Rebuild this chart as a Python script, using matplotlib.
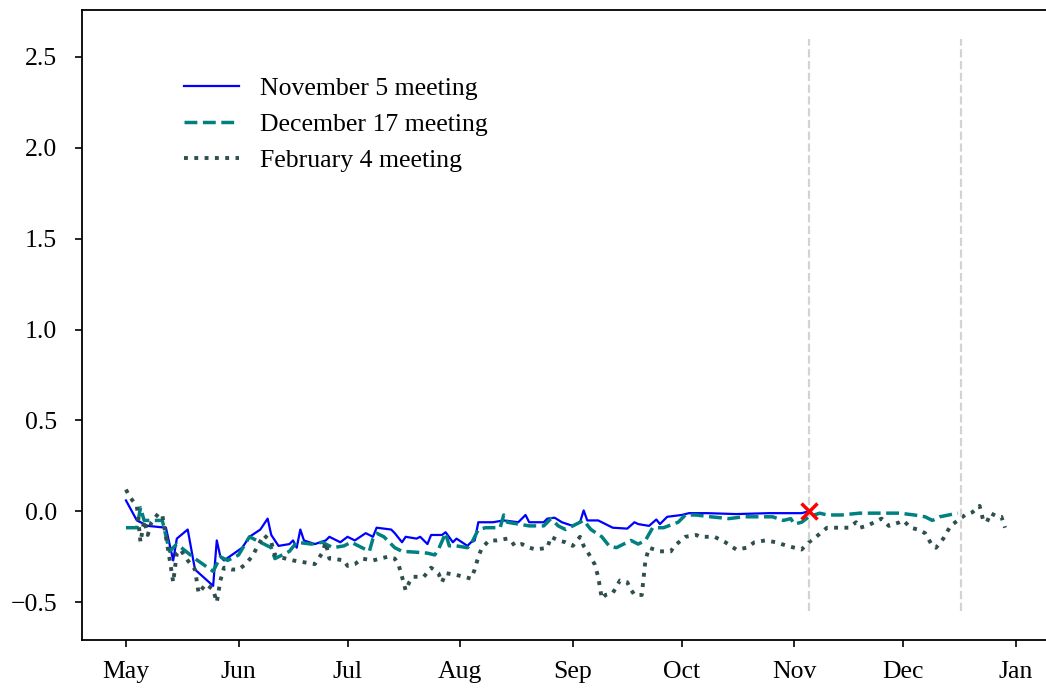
import pandas as pd
import matplotlib.pyplot as plt
import matplotlib.dates as mdates

# implied path of Bank Rate expectations ahead of each MPC meeting
nov_dates = ["2020-05-01", "2020-05-04", "2020-05-07", "2020-05-12", "2020-05-14", "2020-05-15",
             "2020-05-18", "2020-05-20", "2020-05-25", "2020-05-26", "2020-05-27", "2020-05-28",
             "2020-06-02", "2020-06-04", "2020-06-07", "2020-06-09", "2020-06-10", "2020-06-12",
             "2020-06-15", "2020-06-16", "2020-06-17", "2020-06-18", "2020-06-19", "2020-06-22",
             "2020-06-25", "2020-06-26", "2020-06-29", "2020-07-01", "2020-07-03", "2020-07-06",
             "2020-07-08", "2020-07-09", "2020-07-13", "2020-07-14", "2020-07-16", "2020-07-17",
             "2020-07-20", "2020-07-21", "2020-07-23", "2020-07-24", "2020-07-27", "2020-07-28",
             "2020-07-30", "2020-07-31", "2020-08-03", "2020-08-04", "2020-08-05", "2020-08-06",
             "2020-08-10", "2020-08-13", "2020-08-17", "2020-08-19", "2020-08-20", "2020-08-24",
             "2020-08-25", "2020-08-27", "2020-08-29", "2020-09-01", "2020-09-03", "2020-09-04",
             "2020-09-05", "2020-09-08", "2020-09-09", "2020-09-11", "2020-09-12", "2020-09-16",
             "2020-09-18", "2020-09-19", "2020-09-22", "2020-09-24", "2020-09-25", "2020-09-27",
             "2020-10-01", "2020-10-03", "2020-10-08", "2020-10-16", "2020-10-25", "2020-11-03",
             "2020-11-05"]
nov_vals = [0.06, -0.05, -0.08, -0.09, -0.27, -0.15,
            -0.10, -0.32, -0.41, -0.16, -0.25, -0.27,
            -0.20, -0.14, -0.10, -0.04, -0.13, -0.19,
            -0.18, -0.16, -0.20, -0.10, -0.16, -0.18,
            -0.16, -0.14, -0.17, -0.14, -0.16, -0.12,
            -0.14, -0.09, -0.10, -0.12, -0.17, -0.14,
            -0.15, -0.14, -0.18, -0.13, -0.13, -0.115,
            -0.17, -0.15, -0.19, -0.17, -0.16, -0.06,
            -0.06, -0.05, -0.06, -0.02, -0.06, -0.06,
            -0.04, -0.035, -0.06, -0.08, -0.06, 0.005,
            -0.05, -0.05, -0.06, -0.08, -0.09, -0.095,
            -0.06, -0.07, -0.08, -0.045, -0.07, -0.03,
            -0.02, -0.01, -0.01, -0.015, -0.01, -0.01,
            0.0]

dec_dates = ["2020-05-01", "2020-05-04", "2020-05-05", "2020-05-06", "2020-05-11", "2020-05-13",
             "2020-05-15", "2020-05-20", "2020-05-25", "2020-05-27", "2020-05-29", "2020-06-01",
             "2020-06-04", "2020-06-07", "2020-06-10", "2020-06-11", "2020-06-15", "2020-06-17",
             "2020-06-21", "2020-06-24", "2020-06-27", "2020-06-30", "2020-07-02", "2020-07-06",
             "2020-07-07", "2020-07-08", "2020-07-09", "2020-07-11", "2020-07-14", "2020-07-16",
             "2020-07-20", "2020-07-23", "2020-07-25", "2020-07-26", "2020-07-28", "2020-07-29",
             "2020-07-31", "2020-08-03", "2020-08-04", "2020-08-06", "2020-08-08", "2020-08-12",
             "2020-08-13", "2020-08-14", "2020-08-17", "2020-08-20", "2020-08-24", "2020-08-26",
             "2020-08-28", "2020-08-30", "2020-09-02", "2020-09-04", "2020-09-06", "2020-09-09",
             "2020-09-11", "2020-09-13", "2020-09-17", "2020-09-19", "2020-09-21", "2020-09-23",
             "2020-09-26", "2020-09-30", "2020-10-02", "2020-10-05", "2020-10-09", "2020-10-14",
             "2020-10-18", "2020-10-22", "2020-10-26", "2020-10-29", "2020-10-31", "2020-11-01",
             "2020-11-03", "2020-11-05", "2020-11-08", "2020-11-10", "2020-11-14", "2020-11-19",
             "2020-11-24", "2020-11-30", "2020-12-04", "2020-12-07", "2020-12-09", "2020-12-11",
             "2020-12-16"]
dec_vals = [-0.09, -0.09, 0.02, -0.05, -0.05, -0.22,
            -0.18, -0.26, -0.33, -0.25, -0.27, -0.24,
            -0.14, -0.17, -0.20, -0.26, -0.22, -0.17,
            -0.18, -0.17, -0.20, -0.19, -0.17, -0.21,
            -0.22, -0.15, -0.12, -0.14, -0.20, -0.22,
            -0.225, -0.23, -0.24, -0.21, -0.12, -0.19,
            -0.19, -0.20, -0.18, -0.10, -0.09, -0.09,
            -0.02, -0.06, -0.07, -0.08, -0.08, -0.04,
            -0.08, -0.10, -0.07, -0.05, -0.10, -0.14,
            -0.19, -0.20, -0.16, -0.18, -0.16, -0.09,
            -0.09, -0.06, -0.02, -0.02, -0.03, -0.04,
            -0.03, -0.03, -0.03, -0.05, -0.04, -0.07,
            -0.06, -0.03, -0.01, -0.02, -0.02, -0.01,
            -0.01, -0.01, -0.02, -0.03, -0.05, -0.03,
            -0.01]

feb_dates = ["2020-05-01", "2020-05-02", "2020-05-04", "2020-05-05", "2020-05-06", "2020-05-07",
             "2020-05-08", "2020-05-10", "2020-05-11", "2020-05-12", "2020-05-13", "2020-05-14",
             "2020-05-15", "2020-05-16", "2020-05-18", "2020-05-20", "2020-05-21", "2020-05-23",
             "2020-05-25", "2020-05-26", "2020-05-27", "2020-05-28", "2020-05-30", "2020-06-01",
             "2020-06-03", "2020-06-05", "2020-06-06", "2020-06-08", "2020-06-10", "2020-06-11",
             "2020-06-12", "2020-06-14", "2020-06-16", "2020-06-19", "2020-06-22", "2020-06-24",
             "2020-06-25", "2020-06-26", "2020-06-27", "2020-06-30", "2020-07-01", "2020-07-03",
             "2020-07-05", "2020-07-08", "2020-07-12", "2020-07-14", "2020-07-15", "2020-07-16",
             "2020-07-17", "2020-07-18", "2020-07-19", "2020-07-22", "2020-07-24", "2020-07-26",
             "2020-07-27", "2020-07-28", "2020-07-31", "2020-08-02", "2020-08-04", "2020-08-05",
             "2020-08-06", "2020-08-07", "2020-08-09", "2020-08-11", "2020-08-14", "2020-08-15",
             "2020-08-16", "2020-08-18", "2020-08-20", "2020-08-22", "2020-08-25", "2020-08-26",
             "2020-08-28", "2020-08-30", "2020-09-01", "2020-09-03", "2020-09-04", "2020-09-05",
             "2020-09-07", "2020-09-08", "2020-09-09", "2020-09-10", "2020-09-12", "2020-09-14",
             "2020-09-16", "2020-09-17", "2020-09-18", "2020-09-20", "2020-09-21", "2020-09-22",
             "2020-09-25", "2020-09-28", "2020-09-29", "2020-10-02", "2020-10-05", "2020-10-06",
             "2020-10-09", "2020-10-10", "2020-10-13", "2020-10-16", "2020-10-19", "2020-10-21",
             "2020-10-24", "2020-10-27", "2020-10-30", "2020-11-03", "2020-11-05", "2020-11-07",
             "2020-11-10", "2020-11-14", "2020-11-16", "2020-11-18", "2020-11-19", "2020-11-21",
             "2020-11-24", "2020-11-25", "2020-11-27", "2020-11-30", "2020-12-01", "2020-12-03",
             "2020-12-05", "2020-12-07", "2020-12-09", "2020-12-10", "2020-12-12", "2020-12-14",
             "2020-12-16", "2020-12-18", "2020-12-20", "2020-12-22", "2020-12-23", "2020-12-24",
             "2020-12-25", "2020-12-27", "2020-12-28", "2020-12-29"]
feb_vals = [0.12, 0.08, 0.03, -0.17, -0.05, -0.13,
            -0.06, -0.01, -0.02, -0.14, -0.26, -0.39,
            -0.23, -0.21, -0.27, -0.32, -0.45, -0.40,
            -0.43, -0.50, -0.38, -0.31, -0.32, -0.32,
            -0.29, -0.24, -0.20, -0.13, -0.17, -0.24,
            -0.25, -0.26, -0.27, -0.28, -0.29, -0.23,
            -0.17, -0.26, -0.26, -0.27, -0.30, -0.29,
            -0.26, -0.27, -0.25, -0.26, -0.29, -0.36,
            -0.435, -0.39, -0.36, -0.36, -0.31, -0.34,
            -0.39, -0.34, -0.35, -0.36, -0.37, -0.32,
            -0.25, -0.20, -0.16, -0.16, -0.15, -0.16,
            -0.19, -0.18, -0.20, -0.21, -0.20, -0.14,
            -0.16, -0.17, -0.19, -0.14, -0.19, -0.22,
            -0.29, -0.36, -0.48, -0.46, -0.45, -0.38,
            -0.39, -0.43, -0.46, -0.46, -0.27, -0.20,
            -0.22, -0.22, -0.19, -0.14, -0.13, -0.14,
            -0.14, -0.14, -0.17, -0.21, -0.20, -0.17,
            -0.16, -0.17, -0.19, -0.21, -0.17, -0.14,
            -0.09, -0.09, -0.09, -0.06, -0.09, -0.08,
            -0.05, -0.04, -0.08, -0.06, -0.05, -0.09,
            -0.10, -0.12, -0.19, -0.20, -0.15, -0.08,
            -0.05, -0.02, -0.005, 0.03, -0.05, -0.06,
            -0.01, -0.03, -0.03, -0.09]

meeting_days = ["2020-11-05", "2020-12-17"]
policy_day = "2020-11-05"
policy_val = 0.0

plt.rcParams['font.family'] = ['Liberation Serif', 'DejaVu Serif']
plt.rcParams['font.size'] = 18.5

fig = plt.figure(figsize=(10.46, 6.88), dpi=100)
ax = fig.add_axes([0.0784, 0.0698, 0.9321, 0.9157])

ax.plot(pd.to_datetime(nov_dates), nov_vals, color='blue', lw=1.6, label='November 5 meeting')
ax.plot(pd.to_datetime(dec_dates), dec_vals, color='teal', lw=2.5, ls='--',
        label='December 17 meeting')
ax.plot(pd.to_datetime(feb_dates), feb_vals, color='darkslategray', lw=2.8, ls=':',
        label='February 4 meeting')

for d in meeting_days:
    ax.vlines(pd.to_datetime(d), -0.55, 2.6, colors='lightgrey', linestyles='--', lw=1.6)

ax.plot(pd.to_datetime([policy_day]), [policy_val], marker='x', color='red',
        ms=12, mew=2.5, ls='none')

ax.set_ylim(-0.7075, 2.7575)
left = pd.Timestamp("2020-05-01") - pd.Timedelta(days=12.1)
right = pd.Timestamp("2021-01-01") + pd.Timedelta(days=11.3)
ax.set_xlim(left, right)
ax.set_yticks([-0.5, 0.0, 0.5, 1.0, 1.5, 2.0, 2.5])
ax.yaxis.set_major_formatter(plt.FuncFormatter(lambda v, p: f"{v:.1f}".replace("-", "\u2212")))
ax.xaxis.set_major_locator(mdates.MonthLocator())
ax.xaxis.set_major_formatter(mdates.DateFormatter('%b'))
ax.tick_params(length=5, width=1.2)
ax.tick_params(axis='x', pad=10)
ax.tick_params(axis='y', pad=13)
for s in ax.spines.values():
    s.set_linewidth(1.3)

ax.legend(loc='upper left', bbox_to_anchor=(0.081, 0.93), frameon=False,
          handlelength=2.15, handletextpad=0.8, labelspacing=0.5)

fig.savefig('out.png', dpi=100)
